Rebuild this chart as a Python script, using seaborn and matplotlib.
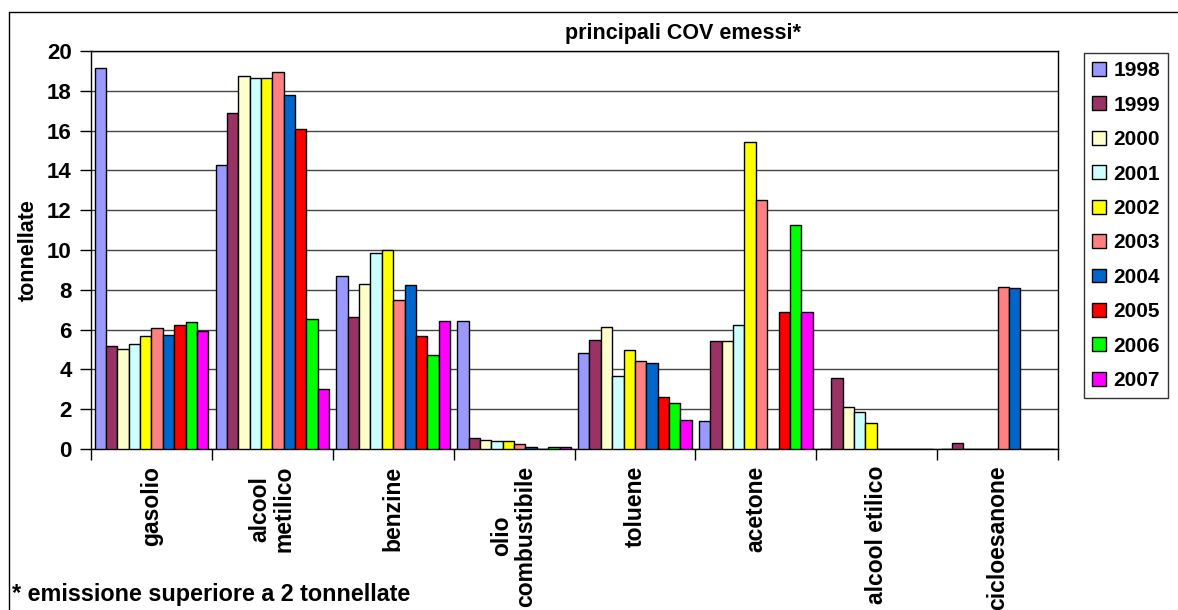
import pandas as pd
import numpy as np
import matplotlib
matplotlib.use('Agg')
import matplotlib.pyplot as plt
from matplotlib.lines import Line2D
import seaborn as sns


# Data (tonnellate per year)
categories = ['gasolio', 'alcool\nmetilico', 'benzine', 'olio\ncombustibile',
              'toluene', 'acetone', 'alcool etilico', 'cicloesanone']
years = ['1998', '1999', '2000', '2001', '2002', '2003', '2004', '2005', '2006', '2007']

gasolio = [19.15, 5.18, 5.05, 5.28, 5.67, 6.06, 5.75, 6.21, 6.36, 5.91]
alcool_metilico = [14.29, 16.86, 18.72, 18.62, 18.62, 18.94, 17.78, 16.07, 6.53, 3.01]
benzine = [8.69, 6.61, 8.31, 9.87, 10.0, 7.47, 8.22, 5.67, 4.71, 6.44]
olio_combustibile = [6.44, 0.55, 0.46, 0.39, 0.39, 0.23, 0.09, 0.0, 0.08, 0.08]
toluene = [4.81, 5.50, 6.12, 3.65, 4.96, 4.43, 4.34, 2.63, 2.33, 1.47]
acetone = [1.40, 5.42, 5.42, 6.21, 15.45, 12.51, 0.0, 6.90, 11.27, 6.90]
alcool_etilico = [0.0, 3.57, 2.09, 1.87, 1.32, 0.0, 0.0, 0.0, 0.0, 0.0]
cicloesanone = [0.0, 0.29, 0.0, 0.0, 0.0, 8.16, 8.07, 0.0, 0.0, 0.0]

series = [gasolio, alcool_metilico, benzine, olio_combustibile,
          toluene, acetone, alcool_etilico, cicloesanone]

colors = ['#9999FF', '#993366', '#FFFFCC', '#CCFFFF', '#FFFF00',
          '#FF8080', '#0066CC', '#FF0000', '#00FF00', '#FF00FF']

# Long table for seaborn
rows = []
for cat, vals in zip(categories, series):
    for yr, v in zip(years, vals):
        rows.append({'sostanza': cat, 'anno': yr, 'tonnellate': v})
data = pd.DataFrame(rows)


#########################################################################################################################

sns.set_theme(style='white')
plt.rcParams['font.family'] = ['Liberation Sans', 'DejaVu Sans']
plt.rcParams['font.weight'] = 'bold'
plt.rcParams['text.color'] = 'black'
plt.rcParams['axes.labelcolor'] = 'black'
plt.rcParams['xtick.color'] = 'black'
plt.rcParams['ytick.color'] = 'black'

fig = plt.figure(figsize=(11.78, 6.10), dpi=100)
ax = fig.add_axes([91 / 1178, 1 - 449 / 610, (1058 - 91) / 1178, (449 - 51) / 610])

sns.barplot(data=data, x='sostanza', y='tonnellate', hue='anno', palette=colors,
            edgecolor='black', linewidth=1, width=0.94, saturation=1,
            errorbar=None, legend=True, ax=ax, zorder=3)

ax.set_xlim(-0.5, len(categories) - 0.5)
ax.set_ylim(0, 20)
ax.set_yticks(np.arange(0, 21, 2))
ax.yaxis.grid(True, color='#444444', linewidth=1, zorder=0)
ax.set_axisbelow(True)

for side in ['left', 'right', 'top', 'bottom']:
    ax.spines[side].set_visible(True)
    ax.spines[side].set_color('black')
    ax.spines[side].set_linewidth(1)

# y ticks outward
ax.tick_params(axis='y', which='major', direction='out', length=8, width=1,
               color='black', labelsize=16, left=True, pad=6)

# x ticks between categories, labels at centres
ax.set_xticks(np.arange(-0.5, len(categories), 1), minor=True)
ax.tick_params(axis='x', which='minor', direction='out', length=8, width=1,
               color='black', bottom=True)
ax.tick_params(axis='x', which='major', length=0, pad=12)
ax.set_xticks(range(len(categories)))
ax.set_xticklabels(categories, rotation=90, va='top', ha='center',
                   multialignment='center', fontsize=16.5, fontweight='bold',
                   linespacing=1.05)
for lbl in ax.get_yticklabels():
    lbl.set_fontweight('bold')

ax.set_xlabel('')
ax.set_ylabel('tonnellate', fontsize=15.5, fontweight='bold', labelpad=6)

# Legend on the right
handles, labels = ax.get_legend_handles_labels()
ax.legend_.remove()
leg = fig.legend(handles, labels, loc='upper left',
                 bbox_to_anchor=(1084 / 1178, 1 - 53 / 610),
                 fontsize=15, frameon=True, fancybox=False, edgecolor='black',
                 handlelength=0.65, handleheight=0.65, handletextpad=0.35,
                 labelspacing=0.74, borderpad=0.4, borderaxespad=0)
leg.get_frame().set_linewidth(1)
for t in leg.get_texts():
    t.set_fontweight('bold')

# Title and footnote
fig.text(683 / 1178, 1 - 33 / 610, 'principali COV emessi*', ha='center', va='center',
         fontsize=15.5, fontweight='bold')
fig.text(12 / 1178, 1 - 594 / 610, '* emissione superiore a 2 tonnellate', ha='left',
         va='center', fontsize=16.8, fontweight='bold')

# chart area border (left and top)
fig.add_artist(Line2D([9 / 1178, 9 / 1178], [0, 1 - 12 / 610], color='black', lw=1,
                      transform=fig.transFigure))
fig.add_artist(Line2D([9 / 1178, 1], [1 - 12 / 610, 1 - 12 / 610], color='black', lw=1,
                      transform=fig.transFigure))

fig.savefig('out.png', dpi=100)
